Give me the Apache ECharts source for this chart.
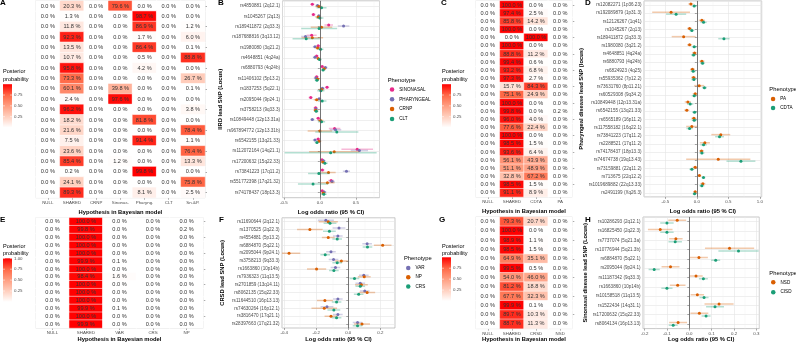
<!DOCTYPE html>
<html>
<head>
<meta charset="utf-8">
<title>Colocalisation heatmaps and forest plots</title>
<script src="https://cdn.jsdelivr.net/npm/echarts@6/dist/echarts.min.js"></script>
<style>
  html, body { margin: 0; padding: 0; background: #fff; }
  #chart { width: 796px; height: 342px; }
</style>
</head>
<body>
<div id="chart"></div>
<script>
// ---------- data ----------

// panel A / B : IIRD lead SNPs
const B_snps = ['rs4850881 (2q12.1)', 'rs1045267 (2q13)', 'rs189411872 (2q33.3)', 'rs187688816 (3q13.12)',
  'rs1980080 (3q21.2)', 'rs4648851 (4q24a)', 'rs6880793 (4q24b)', 'rs11406102 (5p13.2)', 'rs1837253 (5q22.1)',
  'rs2095044 (9p24.1)', 'rs3758213 (9q33.3)', 'rs10849448 (12p13.31a)', 'rs967894772 (12p13.31b)',
  'rs6542155 (13q21.33)', 'rs112072164 (14q21.1)', 'rs17200632 (15q22.33)', 'rs73841223 (17q11.2)',
  'rs551772398 (17q21.32)', 'rs74178437 (18p13.3)'];
const A_hyp = ['NULL', 'SHARED', 'CRNP', 'Sinonas.', 'Pharyng.', 'CLT', 'Sn.&P.'];
const A_prob = [
  [0, 20.3, 0, 79.6, 0, 0, 0],
  [0, 1.3, 0, 0, 98.7, 0, 0],
  [0, 11.8, 0, 0, 86.9, 0, 1.2],
  [0, 92.3, 0, 0, 1.7, 0, 6.0],
  [0, 13.5, 0, 0, 86.4, 0, 0.1],
  [0, 10.7, 0, 0, 0.5, 0, 88.8],
  [0, 95.8, 0, 0, 4.2, 0, 0],
  [0, 73.3, 0, 0, 0, 0, 26.7],
  [0, 60.1, 0, 39.8, 0, 0, 0.1],
  [0, 2.4, 0, 97.6, 0, 0, 0],
  [0, 96.2, 0, 0, 0, 0, 3.8],
  [0, 18.2, 0, 0, 81.8, 0, 0],
  [0, 21.6, 0, 0, 0, 0, 78.4],
  [0, 7.5, 0, 0, 91.4, 0, 1.1],
  [0, 23.6, 0, 0, 0, 0, 76.4],
  [0, 85.4, 0, 1.2, 0, 0, 13.3],
  [0, 0.2, 0, 0, 99.8, 0, 0],
  [0, 24.1, 0, 0, 0, 0, 75.8],
  [0, 89.3, 0, 0, 8.1, 0, 2.5]
];
const B_sino = [-0.105, -0.09, 0.123, -0.114, -0.023, -0.045, 0.032, -0.045, 0.10, -0.127, -0.059, -0.023, 0.205, -0.023, 0.52, 0.03, 0.035, 0.157, 0.033];
const B_sino_ci = [0.03, 0.03, 0.06, 0.07, 0.03, 0.03, 0.03, 0.03, 0.03, 0.03, 0.03, 0.03, 0.08, 0.03, 0.22, 0.03, 0.03, 0.04, 0.03];
const B_phar = [-0.032, -0.014, 0.33, -0.2, -0.068, -0.068, 0.077, -0.055, 0.036, -0.01, -0.055, -0.105, 0.218, -0.068, 0.55, 0.05, 0.37, 0.17, 0.06];
const B_phar_ci = [0.03, 0.025, 0.08, 0.06, 0.03, 0.03, 0.03, 0.03, 0.03, 0.03, 0.03, 0.03, 0.08, 0.03, 0.12, 0.03, 0.05, 0.04, 0.03];
const B_crnp = [-0.014, -0.023, 0.023, -0.105, -0.032, -0.023, 0.059, -0.032, 0.023, -0.045, -0.059, 0.01, 0.0, -0.01, 0.2, 0.04, 0.12, 0.105, 0.047];
const B_crnp_ci = [0.05, 0.04, 0.15, 0.15, 0.03, 0.03, 0.03, 0.03, 0.04, 0.04, 0.03, 0.04, 0.17, 0.03, 0.35, 0.03, 0.1, 0.1, 0.03];
const B_clt = [0.023, 0.0, -0.01, -0.19, 0.01, -0.005, 0.045, -0.041, 0.014, 0.032, -0.05, 0.023, 0.236, -0.041, 0.15, 0.07, -0.014, -0.095, 0.055];
const B_clt_ci = [0.07, 0.05, 0.25, 0.19, 0.04, 0.03, 0.03, 0.03, 0.05, 0.06, 0.03, 0.05, 0.3, 0.03, 0.64, 0.04, 0.15, 0.21, 0.04];

// panel C / D : pharyngeal disease lead SNPs
const D_snps = ['rs12082271 (1p36.23)', 'rs192089879 (1p31.3)', 'rs12126267 (1q41)', 'rs1045267 (2q13)',
  'rs189411872 (2q33.3)', 'rs1980080 (3q21.2)', 'rs4648851 (4q24a)', 'rs6880793 (4q24b)', 'rs6824923 (4q25)',
  'rs55935362 (7p12.2)', 'rs73631760 (8p11.21)', 'rs60529308 (9q34.2)', 'rs10849448 (12p13.31a)',
  'rs6542155 (13q21.33)', 'rs6565189 (16p11.2)', 'rs117558182 (16q22.1)', 'rs73841223 (17q11.2)',
  'rs2288521 (17q11.2)', 'rs74178437 (18p13.3)', 'rs74674738 (19q13.43)', 'rs73159881 (22q11.2)',
  'rs713675 (22q12.2)', 'rs1019689882 (22q13.33)', 'rs2491199 (Xq26.3)'];
const C_hyp = ['NULL', 'SHARED', 'CDTA', 'PA'];
const C_prob = [
  [0, 100, 0, 0], [0, 97.4, 2.5, 0], [0, 85.8, 14.2, 0], [0, 100, 0, 0], [0, 0, 100, 0],
  [0, 100, 0, 0], [0, 88.8, 11.2, 0], [0, 99.4, 0.6, 0], [0, 93.2, 6.8, 0], [0, 97.3, 2.7, 0],
  [0, 15.7, 84.3, 0], [0, 75.1, 24.9, 0], [0, 100, 0, 0], [0, 99.8, 0, 0.2], [0, 96.0, 4.0, 0],
  [0, 77.6, 22.4, 0], [0, 100, 0, 0], [0, 98.5, 1.5, 0], [0, 93.6, 6.4, 0], [0, 56.1, 43.9, 0],
  [0, 51.1, 48.9, 0], [0, 32.8, 67.2, 0], [0, 98.5, 1.5, 0], [0, 91.1, 8.9, 0]
];
const D_pa = [-0.095, -0.41, 0.08, -0.116, -0.21, -0.116, -0.037, 0.08, -0.07, -0.053, 0.037, -0.026, -0.143, -0.16, -0.048, -0.08, 0.38, 0.127, 0.074, 0.34, -0.027, 0.04, 0.095, -0.027];
const D_pa_ci = [0.04, 0.3, 0.05, 0.04, 0.19, 0.04, 0.04, 0.04, 0.04, 0.04, 0.08, 0.04, 0.05, 0.04, 0.04, 0.09, 0.15, 0.08, 0.04, 0.51, 0.04, 0.03, 0.04, 0.03];
const D_cdta = [-0.042, -0.33, 0.106, -0.08, 0.43, -0.042, -0.053, 0.09, -0.058, -0.048, 0.12, -0.042, -0.106, -0.037, -0.042, -0.116, 0.36, 0.106, 0.08, 0.70, -0.08, 0.105, 0.079, -0.037];
const D_cdta_ci = [0.04, 0.16, 0.05, 0.04, 0.09, 0.04, 0.04, 0.04, 0.04, 0.04, 0.04, 0.04, 0.05, 0.04, 0.04, 0.05, 0.07, 0.05, 0.04, 0.23, 0.04, 0.03, 0.04, 0.03];

// panel E / F : CRSD lead SNPs
const F_snps = ['rs11690644 (2q12.1)', 'rs1370525 (2q22.3)', 'rs4554881 (5p13.2)', 'rs6884870 (5q22.1)',
  'rs2095044 (9p24.1)', 'rs3758213 (9q33.3)', 'rs1663860 (10p14b)', 'rs7936323 (11q13.5)', 'rs2701859 (13q14.11)',
  'rs8062135 (15q22.33)', 'rs11644510 (16p13.13)', 'rs74630264 (16p12.1)', 'rs3816470 (17q21.1)', 'rs28397663 (17q21.32)'];
const E_hyp = ['NULL', 'SHARED', 'VAR', 'CRS', 'NP'];
const E_prob = [
  [0, 100, 0, 0, 0], [0, 99.8, 0, 0, 0.2], [0, 100, 0, 0, 0], [0, 100, 0, 0, 0], [0, 100, 0, 0, 0],
  [0, 99.9, 0.1, 0, 0], [0, 100, 0, 0, 0], [0, 98.4, 1.6, 0, 0], [0, 100, 0, 0, 0], [0, 100, 0, 0, 0],
  [0, 100, 0, 0, 0], [0, 99.9, 0.1, 0, 0], [0, 100, 0, 0, 0], [0, 99.9, 0, 0, 0]
];
const F_var = [-0.14, -0.058, -0.065, 0.118, -0.108, -0.092, -0.08, 0.097, 0.075, 0.103, -0.065, -0.133, -0.065, 0.058];
const F_var_ci = [0.05, 0.04, 0.03, 0.03, 0.03, 0.03, 0.03, 0.03, 0.03, 0.03, 0.03, 0.04, 0.03, 0.03];
const F_np = [-0.125, -0.24, -0.125, 0.215, -0.37, -0.043, -0.198, 0.1, 0.082, 0.118, -0.146, -0.15, -0.108, 0.086];
const F_np_ci = [0.06, 0.08, 0.04, 0.055, 0.07, 0.04, 0.06, 0.04, 0.04, 0.05, 0.05, 0.08, 0.04, 0.05];
const F_crs = [-0.114, -0.118, -0.069, 0.12, -0.144, -0.069, -0.09, 0.039, 0.075, 0.065, -0.073, -0.09, -0.073, 0.058];
const F_crs_ci = [0.04, 0.04, 0.03, 0.03, 0.03, 0.03, 0.03, 0.03, 0.03, 0.03, 0.03, 0.04, 0.03, 0.03];

// panel G / H : sinonasal disease lead SNPs
const H_snps = ['rs10286293 (2q12.1)', 'rs16825450 (2q22.3)', 'rs7737074 (5q21.3a)', 'rs10776944 (5q21.3b)',
  'rs6884870 (5q22.1)', 'rs2095044 (9p24.1)', 'rs11187342 (9q33.3)', 'rs1663860 (10p14b)', 'rs10158518 (11q13.5)',
  'rs1522434 (14q31.1)', 'rs17200632 (15q22.33)', 'rs8064134 (16p13.13)'];
const G_hyp = ['NULL', 'SHARED', 'CRSD', 'NSD'];
const G_prob = [
  [0, 79.3, 20.7, 0], [0, 100, 0, 0], [0, 98.9, 1.1, 0], [0, 98.5, 1.5, 0], [0, 64.9, 35.1, 0], [0, 99.5, 0.5, 0],
  [0, 54.0, 46.0, 0], [0, 81.2, 18.8, 0], [0, 67.7, 32.3, 0], [0, 99.9, 0.1, 0], [0, 89.7, 10.3, 0], [0, 88.7, 11.3, 0]
];
const H_nsd = [-0.054, -0.13, -0.06, 0.18, 0.043, -0.084, 0.03, -0.052, 0.036, 0.133, 0.045, -0.05];
const H_nsd_ci = [0.04, 0.055, 0.03, 0.11, 0.04, 0.04, 0.03, 0.035, 0.03, 0.065, 0.04, 0.04];
const H_cisd = [-0.1, -0.1, -0.063, 0.22, 0.118, -0.157, 0.063, -0.1, 0.066, 0.115, 0.075, -0.072];
const H_cisd_ci = [0.03, 0.03, 0.03, 0.09, 0.02, 0.025, 0.02, 0.025, 0.02, 0.04, 0.02, 0.02];

// colour bar tick labels
const barTicks3 = ['0.75', '0.50', '0.25'];
const barTicks4 = ['1.00', '0.75', '0.50', '0.25'];

// ---------- building the option ----------
const FONT = '"Liberation Sans", Arial, Helvetica, sans-serif';
const PINK = '#E7298A', PURPLE = '#7570B3', ORANGE = '#D95F02', GREEN = '#1B9E77';
// white -> red, roughly the Lab blend ggplot uses
const HEAT = ['#ffffff', '#ffcfbe', '#ff9e81', '#ff6846', '#ff0000'];

const grids = [], xAxes = [], yAxes = [], series = [], legends = [], graphics = [], heatIdx = [];

function gridBox(b) {
  return { left: b[0], top: b[1], width: b[2], height: b[3], show: true,
    borderColor: '#a3a3a3', borderWidth: 0.6, backgroundColor: 'rgba(0,0,0,0)', outerBoundsMode: 'none' };
}
const tickStyle = { color: '#555', width: 0.5 };
const titleStyle = { fontSize: 5.8, fontWeight: 'bold', color: '#000', fontFamily: FONT };

function addHeatmap(box, hyps, snps, probs, nameGap) {
  const gi = grids.length;
  grids.push(gridBox(box));
  xAxes.push({ type: 'category', gridIndex: gi, data: hyps,
    axisLine: { show: false }, axisTick: { show: true, alignWithLabel: true, length: 2, lineStyle: tickStyle },
    axisLabel: { fontSize: 4.4, color: '#4d4d4d', margin: 3, fontFamily: FONT }, splitLine: { show: false },
    name: 'Hypothesis in Bayesian model', nameLocation: 'middle', nameGap: nameGap, nameTextStyle: titleStyle });
  yAxes.push({ type: 'category', gridIndex: gi, data: snps, inverse: true, position: 'right',
    axisLine: { show: false }, axisTick: { show: true, alignWithLabel: true, length: 2, lineStyle: tickStyle },
    axisLabel: { show: false }, splitLine: { show: false } });
  const cells = [];
  probs.forEach((row, r) => row.forEach((v, c) => cells.push([c, r, v])));
  heatIdx.push(series.length);
  series.push({ type: 'heatmap', xAxisIndex: gi, yAxisIndex: gi, data: cells,
    itemStyle: { borderColor: '#ffffff', borderWidth: 0.5 },
    label: { show: true, formatter: p => p.value[2].toFixed(1) + ' %', fontSize: 5.6, color: '#333', fontFamily: FONT },
    emphasis: { disabled: true } });
}

function addForest(box, snps, groups, xr, split, dodge, yName, yGap, leg) {
  const gi = grids.length;
  grids.push(gridBox(box));
  xAxes.push({ type: 'value', gridIndex: gi, min: xr[0], max: xr[1], splitNumber: split,
    axisLine: { show: false }, axisTick: { show: true, length: 2, lineStyle: tickStyle },
    axisLabel: { fontSize: 4.4, color: '#4d4d4d', margin: 3, fontFamily: FONT,
      showMinLabel: false, showMaxLabel: false, formatter: v => v.toFixed(1) },
    splitLine: { show: true, lineStyle: { color: '#e4e4e4', width: 0.6 } },
    minorTick: { show: false, splitNumber: 2 },
    minorSplitLine: { show: true, lineStyle: { color: '#eeeeee', width: 0.4 } },
    name: 'Log odds ratio (95 % CI)', nameLocation: 'middle', nameGap: 7.5, nameTextStyle: titleStyle });
  yAxes.push({ type: 'category', gridIndex: gi, data: snps, inverse: true,
    axisLine: { show: false }, axisTick: { show: true, alignWithLabel: true, length: 2, lineStyle: tickStyle },
    axisLabel: { fontSize: 4.6, color: '#4d4d4d', margin: 2.5, fontFamily: FONT },
    splitLine: { show: true, alignWithLabel: true, lineStyle: { color: '#e4e4e4', width: 0.6 } },
    name: yName, nameLocation: 'middle', nameRotate: 90, nameGap: yGap, nameTextStyle: titleStyle });

  groups.forEach((g, k) => {
    const off = (k - (groups.length - 1) / 2) * dodge / groups.length;
    const s = { type: 'custom', name: g.name, xAxisIndex: gi, yAxisIndex: gi, clip: true,
      itemStyle: { color: g.color },
      encode: { x: [0, 2, 3], y: 1 },
      data: snps.map((snp, i) => [g.est[i], snp, g.est[i] - g.ci[i], g.est[i] + g.ci[i]]),
      renderItem: (params, api) => {
        const band = api.size([0, 1])[1];
        const row = api.value(1);
        const p = api.coord([api.value(0), row]);
        const a = api.coord([api.value(2), row]);
        const b = api.coord([api.value(3), row]);
        const y = p[1] + off * band;
        return { type: 'group', children: [
          { type: 'line', shape: { x1: a[0], y1: y, x2: b[0], y2: y }, style: { stroke: g.color, lineWidth: 1.5, opacity: 0.33 } },
          { type: 'circle', shape: { cx: p[0], cy: y, r: 1.5 }, style: { fill: g.color } }
        ] };
      } };
    if (k === 0) {
      s.markLine = { silent: true, symbol: ['none', 'none'], label: { show: false },
        lineStyle: { color: '#555', width: 0.8, type: 'solid' }, emphasis: { disabled: true },
        data: [{ xAxis: 0 }] };
    }
    series.push(s);
  });

  legends.push({ orient: 'vertical', left: leg.left, top: leg.top, padding: 0, itemWidth: 4.5, itemHeight: 4.5,
    itemGap: leg.gap, icon: 'circle', selectedMode: false, data: groups.map(g => g.name),
    textStyle: { fontSize: 4.6, color: '#000', fontFamily: FONT } });
  graphics.push({ type: 'text', x: leg.titleX, y: leg.titleY,
    style: { text: 'Phenotype', fontSize: 5.8, fontFamily: FONT, fill: '#000', verticalAlign: 'middle' } });
}

function colourBar(x, top, bottom, ticks, titleY) {
  graphics.push({ type: 'text', x: x, y: titleY, style: { text: 'Posterior', fontSize: 5.6, fontFamily: FONT, fill: '#000', verticalAlign: 'middle' } });
  graphics.push({ type: 'text', x: x, y: titleY + 7.6, style: { text: 'probability', fontSize: 5.6, fontFamily: FONT, fill: '#000', verticalAlign: 'middle' } });
  graphics.push({ type: 'rect', shape: { x: x, y: top, width: 9, height: bottom - top },
    style: { fill: { type: 'linear', x: 0, y: 0, x2: 0, y2: 1, colorStops: HEAT.slice().reverse().map((c, i) => ({ offset: i / (HEAT.length - 1), color: c })) } } });
  ticks.forEach(t => {
    const y = bottom - parseFloat(t) * (bottom - top);
    graphics.push({ type: 'line', shape: { x1: x, y1: y, x2: x + 2, y2: y }, style: { stroke: '#fff', lineWidth: 0.5 } });
    graphics.push({ type: 'line', shape: { x1: x + 7, y1: y, x2: x + 9, y2: y }, style: { stroke: '#fff', lineWidth: 0.5 } });
    graphics.push({ type: 'text', x: x + 11, y: y, style: { text: t, fontSize: 4.4, fontFamily: FONT, fill: '#4d4d4d', verticalAlign: 'middle' } });
  });
}

// top row
addHeatmap([35.7, 0.8, 169.3, 196.9], A_hyp, B_snps, A_prob, 7.7);
addForest([282.5, 0.8, 97, 196.9], B_snps, [
  { name: 'SINONASAL', color: PINK, est: B_sino, ci: B_sino_ci },
  { name: 'PHARYNGEAL', color: PURPLE, est: B_phar, ci: B_phar_ci },
  { name: 'CRNP', color: ORANGE, est: B_crnp, ci: B_crnp_ci },
  { name: 'CLT', color: GREEN, est: B_clt, ci: B_clt_ci }
], [-0.52, 0.83], 3, 0.45, 'IIRD lead SNP (Locus)', 48.5,
  { left: 389.8, top: 87, gap: 4.8, titleX: 387.7, titleY: 80 });
addHeatmap([475.7, 0.9, 96.6, 196], C_hyp, D_snps, C_prob, 8.5);
addForest([644, 0.9, 117.7, 196], D_snps, [
  { name: 'PA', color: ORANGE, est: D_pa, ci: D_pa_ci },
  { name: 'CDTA', color: GREEN, est: D_cdta, ci: D_cdta_ci }
], [-0.84, 1.03], 3, 0.5, 'Pharyngeal disease lead SNP (locus)', 52.3,
  { left: 770.8, top: 96.4, gap: 4.1, titleX: 769.3, titleY: 89.3 });

// bottom row
addHeatmap([35.7, 217.8, 167.6, 110.2], E_hyp, F_snps, E_prob, 7.1);
addForest([282, 217.8, 113, 110.2], F_snps, [
  { name: 'VAR', color: PURPLE, est: F_var, ci: F_var_ci },
  { name: 'NP', color: ORANGE, est: F_np, ci: F_np_ci },
  { name: 'CRS', color: GREEN, est: F_crs, ci: F_crs_ci }
], [-0.414, 0.292], 4, 0.6, 'CRSD lead SNP (Locus)', 56.8,
  { left: 406, top: 265.4, gap: 4.3, titleX: 404, titleY: 258.3 });
addHeatmap([475.7, 217, 96.6, 111.6], G_hyp, H_snps, G_prob, 6.8);
addForest([643, 217, 116.3, 111.6], H_snps, [
  { name: 'NSD', color: ORANGE, est: H_nsd, ci: H_nsd_ci },
  { name: 'CISD', color: GREEN, est: H_cisd, ci: H_cisd_ci }
], [-0.207, 0.313], 5, 0.6, 'Sinonasal disease lead SNP (Locus)', 52.7,
  { left: 771, top: 279.8, gap: 4.9, titleX: 769.3, titleY: 273.5 });

// colour bars
colourBar(3, 84.2, 127.5, barTicks3, 71.7);
colourBar(442, 84.2, 127.5, barTicks3, 71.7);
colourBar(3, 258.3, 301.9, barTicks4, 246);
colourBar(442, 257.3, 301, barTicks3, 246);

// panel letters
[['A', 0, 3], ['B', 218, 3], ['C', 441, 3], ['D', 585, 3], ['E', 0, 220], ['F', 219, 220], ['G', 439, 219.5], ['H', 585, 219.5]]
  .forEach(l => graphics.push({ type: 'text', x: l[1], y: l[2],
    style: { text: l[0], fontSize: 8, fontWeight: 'bold', fontFamily: FONT, fill: '#000', verticalAlign: 'middle' } }));

const chart = echarts.init(document.getElementById('chart'), null, { renderer: 'canvas' });
chart.setOption({
  animation: false,
  textStyle: { fontFamily: FONT },
  grid: grids,
  xAxis: xAxes,
  yAxis: yAxes,
  visualMap: { type: 'continuous', show: false, min: 0, max: 100, dimension: 2, seriesIndex: heatIdx, inRange: { color: HEAT } },
  legend: legends,
  graphic: graphics,
  series: series
});
</script>
</body>
</html>
